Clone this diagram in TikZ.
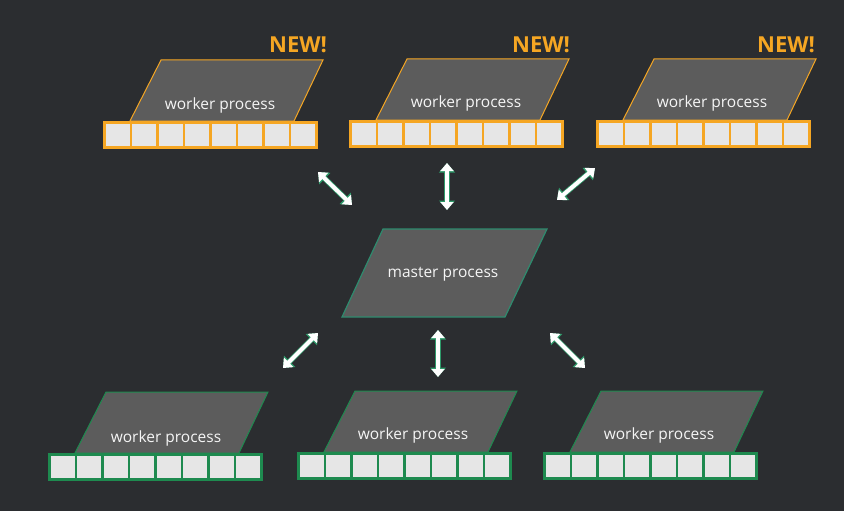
\documentclass[tikz,border=0pt]{standalone}
\usepackage{fontspec}
\setmainfont{Open Sans}
\usetikzlibrary{arrows.meta}
\definecolor{bg}{HTML}{2B2D30}
\definecolor{org}{HTML}{F5A623}
\definecolor{grn}{HTML}{1E8A4F}
\definecolor{tealc}{HTML}{2E8B6E}
\definecolor{par}{HTML}{5C5C5C}
\definecolor{cellc}{HTML}{E6E6E6}
\definecolor{arrg}{HTML}{2E9A6A}
\tikzset{
  para/.style={fill=par, draw=#1, line width=1pt},
  celbox/.style={fill=cellc, draw=#1, line width=2.8pt},
  lbl/.style={text=white!92!gray, font=\fontsize{15.5}{18}\selectfont, inner sep=0pt},
  newlbl/.style={text=org, font=\bfseries\fontsize{22}{26}\selectfont, inner sep=0pt},
  dblarrow/.style={white, line width=4pt,
    {Triangle[width=13pt,length=8pt]}-{Triangle[width=13pt,length=8pt]},
    preaction={draw=arrg, line width=5.6pt,
      arrows={Triangle[width=15.5pt,length=9.5pt]-Triangle[width=15.5pt,length=9.5pt]}}}
}
% #1 name, #2 row x, #3 row top y, #4 colour, #5 text x, #6 text y
\newcommand\workerproc[6]{%
  \draw[para=#4] ({#2+58},{#3-61}) -- ({#2+220},{#3-61}) -- ({#2+191},{#3}) -- ({#2+27},{#3}) -- cycle;
  \node[lbl] (#1) at (#5,#6) {worker process};
  \foreach \k in {0,...,7}{
    \draw[celbox=#4] ({#2+1.4+\k*26.5},{#3+1.4}) rectangle ({#2+1.4+(\k+1)*26.5},{#3+28-1.4});
  }%
}
\begin{document}
\begin{tikzpicture}[x=1pt,y=-1pt]
\useasboundingbox (0,0) rectangle (844,511);
\fill[bg] (0,0) rectangle (844,511);

% top workers (new)
\workerproc{w1}{103}{121}{org}{220}{105}
\workerproc{w2}{349}{120}{org}{466}{103}
\workerproc{w3}{596}{120}{org}{712}{103}
\node[newlbl] (n1) at (298,45) {NEW!};
\node[newlbl] (n2) at (541,45) {NEW!};
\node[newlbl] (n3) at (786,45) {NEW!};

% bottom workers
\workerproc{b1}{48}{453}{grn}{166}{438}
\workerproc{b2}{297}{452}{grn}{413}{435}
\workerproc{b3}{543}{452}{grn}{659}{435}

% master
\draw[fill=par, draw=tealc, line width=1.2pt] (383,229) -- (547,229) -- (505,317) -- (342,317) -- cycle;
\node[lbl] (m) at (443,274) {master process};

% arrow end points
\coordinate (a1s) at (318,172); \coordinate (a1e) at (352,205);
\coordinate (a2s) at (447,163); \coordinate (a2e) at (447,210);
\coordinate (a3s) at (595,168); \coordinate (a3e) at (557,200);
\coordinate (a4s) at (318,333); \coordinate (a4e) at (283,368);
\coordinate (a5s) at (438,330); \coordinate (a5e) at (438,377);
\coordinate (a6s) at (550,333); \coordinate (a6e) at (585,368);
\draw[dblarrow] (a1s) -- (a1e);
\draw[dblarrow] (a2s) -- (a2e);
\draw[dblarrow] (a3s) -- (a3e);
\draw[dblarrow] (a4s) -- (a4e);
\draw[dblarrow] (a5s) -- (a5e);
\draw[dblarrow] (a6s) -- (a6e);
\end{tikzpicture}
\end{document}
